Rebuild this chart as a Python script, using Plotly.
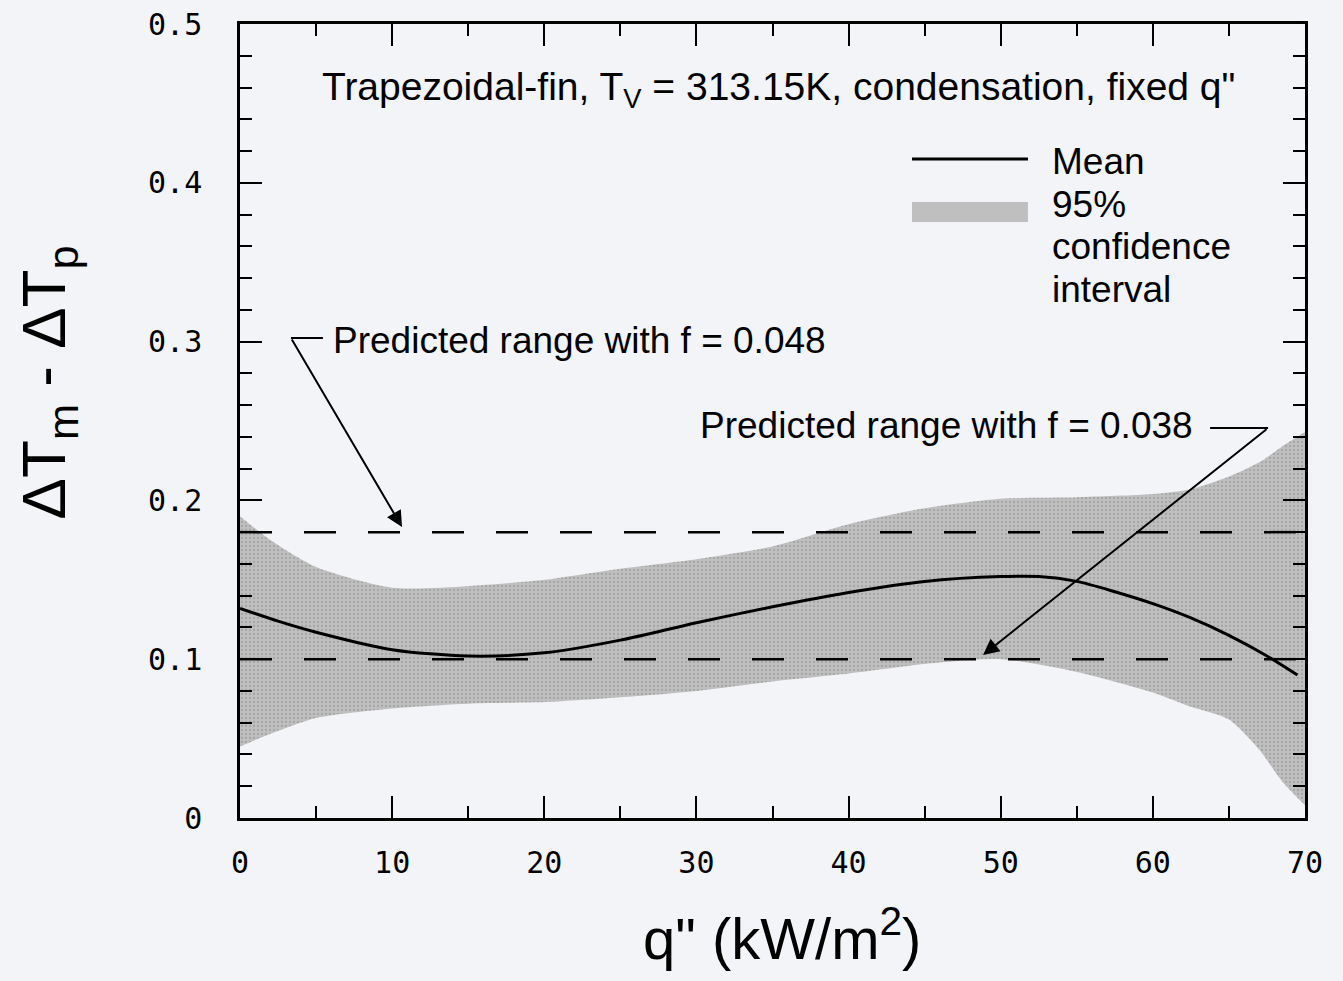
import plotly.graph_objects as go

# ---- data ----
q_band = [0, 2, 5, 10, 15, 20, 25, 30, 35, 40, 45, 50, 55, 60, 62.5, 65, 67, 68.5, 70]
ci_upper = [0.190, 0.175, 0.158, 0.145, 0.146, 0.150, 0.157, 0.163, 0.171, 0.185, 0.195,
            0.201, 0.202, 0.204, 0.207, 0.215, 0.224, 0.234, 0.243]
ci_lower = [0.045, 0.053, 0.063, 0.069, 0.072, 0.073, 0.076, 0.080, 0.086, 0.091, 0.097,
            0.100, 0.092, 0.079, 0.070, 0.062, 0.043, 0.023, 0.008]

q_mean = [0, 2.5, 5, 10, 15, 20, 25, 30, 35, 40, 45, 50, 52.5, 55, 57.5, 60, 62.5, 65, 67.5, 69.5]
mean_vals = [0.132, 0.124, 0.117, 0.106, 0.102, 0.104, 0.112, 0.123, 0.133, 0.142, 0.149,
             0.152, 0.152, 0.149, 0.1425, 0.135, 0.126, 0.115, 0.102, 0.090]

q_span = [0, 70]
pred_f048 = [0.18, 0.18]
pred_f038 = [0.10, 0.10]

x_ticks = [0, 10, 20, 30, 40, 50, 60, 70]
y_ticks = [0, 0.1, 0.2, 0.3, 0.4, 0.5]

BG = "#f3f4f8"
BAND = "#bfbfbf"
TXT = "Liberation Sans"
NUM = "DejaVu Sans Mono"

fig = go.Figure()
fig.add_trace(go.Scatter(x=q_band, y=ci_upper, mode="lines",
                         line=dict(width=0, shape="spline", smoothing=0.7),
                         hoverinfo="skip", showlegend=False))
fig.add_trace(go.Scatter(x=q_band, y=ci_lower, mode="lines",
                         line=dict(width=0, shape="spline", smoothing=0.7),
                         fill="tonexty", fillcolor=BAND,
                         fillpattern=dict(shape=".", fgcolor="#8a8a8a", bgcolor=BAND, size=4, solidity=0.25),
                         name="95% confidence interval", showlegend=False))
fig.add_trace(go.Scatter(x=q_span, y=pred_f048, mode="lines",
                         line=dict(color="black", width=2.5, dash="32px,32px"), showlegend=False))
fig.add_trace(go.Scatter(x=q_span, y=pred_f038, mode="lines",
                         line=dict(color="black", width=2.5, dash="32px,32px"), showlegend=False))
fig.add_trace(go.Scatter(x=q_mean, y=mean_vals, mode="lines",
                         line=dict(color="black", width=3, shape="spline", smoothing=0.8),
                         name="Mean", showlegend=False))

shapes = [
    # legend swatches
    dict(type="line", xref="x", yref="y", x0=44.17, x1=51.79, y0=0.415, y1=0.415,
         line=dict(color="black", width=3)),
    dict(type="rect", xref="x", yref="y", x0=44.17, x1=51.79, y0=0.3753, y1=0.3879,
         fillcolor=BAND, line=dict(width=0)),
    # leader lines
    dict(type="line", xref="x", yref="y", x0=3.35, x1=5.45, y0=0.3023, y1=0.3023,
         line=dict(color="black", width=2)),
    dict(type="line", xref="x", yref="y", x0=63.76, x1=67.57, y0=0.2456, y1=0.2456,
         line=dict(color="black", width=2)),
]

ann = [
    dict(x=35.4, y=0.459, xref="x", yref="y", showarrow=False, xanchor="center", yanchor="middle",
         text="Trapezoidal-fin, T<sub>V</sub> = 313.15K, condensation, fixed q\"",
         font=dict(family=TXT, size=39, color="black")),
    dict(x=53.24, y=0.4137, xref="x", yref="y", showarrow=False, xanchor="left", yanchor="middle",
         text="Mean", font=dict(family=TXT, size=37, color="black")),
    dict(x=53.24, y=0.3866, xref="x", yref="y", showarrow=False, xanchor="left", yanchor="middle",
         text="95%", font=dict(family=TXT, size=37, color="black")),
    dict(x=53.24, y=0.3602, xref="x", yref="y", showarrow=False, xanchor="left", yanchor="middle",
         text="confidence", font=dict(family=TXT, size=37, color="black")),
    dict(x=53.24, y=0.3331, xref="x", yref="y", showarrow=False, xanchor="left", yanchor="middle",
         text="interval", font=dict(family=TXT, size=37, color="black")),
    dict(x=5.98, y=0.3004, xref="x", yref="y", showarrow=False, xanchor="left", yanchor="middle",
         text="Predicted range with f = 0.048", font=dict(family=TXT, size=37, color="black")),
    dict(x=62.77, y=0.2469, xref="x", yref="y", showarrow=False, xanchor="right", yanchor="middle",
         text="Predicted range with f = 0.038", font=dict(family=TXT, size=37, color="black")),
    # arrows
    dict(x=10.65, y=0.1832, ax=3.35, ay=0.3023, xref="x", yref="y", axref="x", ayref="y",
         text="", showarrow=True, arrowhead=2, arrowsize=1.6, arrowwidth=2, arrowcolor="black", standoff=0),
    dict(x=48.84, y=0.1026, ax=67.57, ay=0.2456, xref="x", yref="y", axref="x", ayref="y",
         text="", showarrow=True, arrowhead=2, arrowsize=1.6, arrowwidth=2, arrowcolor="black", standoff=0),
    # y axis title
    dict(x=-0.180, y=0.549, xref="paper", yref="paper", showarrow=False, textangle=-90,
         xanchor="center", yanchor="middle",
         text="\u0394T<sub>m</sub> - \u0394T<sub>p</sub>",
         font=dict(family=TXT, size=62, color="black")),
    # x axis title
    dict(x=0.509, y=-0.147, xref="paper", yref="paper", showarrow=False,
         xanchor="center", yanchor="middle",
         text="q\" (kW/m<sup>2</sup>)",
         font=dict(family=TXT, size=58, color="black")),
]

fig.update_layout(
    width=1343, height=981,
    margin=dict(l=240, r=38, t=24, b=163, autoexpand=False),
    paper_bgcolor=BG, plot_bgcolor=BG,
    shapes=shapes, annotations=ann,
    showlegend=False,
    font=dict(family=TXT, color="black"),
)
fig.update_xaxes(
    range=[0, 70], tickvals=x_ticks, ticks="inside", ticklen=22, tickwidth=2, tickcolor="black",
    minor=dict(dtick=5, ticks="inside", ticklen=12, tickwidth=2, tickcolor="black"),
    showline=True, linewidth=2.5, linecolor="black", mirror="ticks", showgrid=False, zeroline=False,
    tickfont=dict(family=NUM, size=30, color="black"), ticklabelstandoff=16, automargin=False,
)
fig.update_yaxes(
    range=[0, 0.5], tickvals=y_ticks, ticktext=["0", "0.1", "0.2", "0.3", "0.4", "0.5"],
    ticks="inside", ticklen=22, tickwidth=2, tickcolor="black",
    minor=dict(dtick=0.02, ticks="inside", ticklen=12, tickwidth=2, tickcolor="black"),
    showline=True, linewidth=2.5, linecolor="black", mirror="ticks", showgrid=False, zeroline=False,
    tickfont=dict(family=NUM, size=30, color="black"), ticklabelstandoff=29, automargin=False,
)

fig.write_html("out.html")
